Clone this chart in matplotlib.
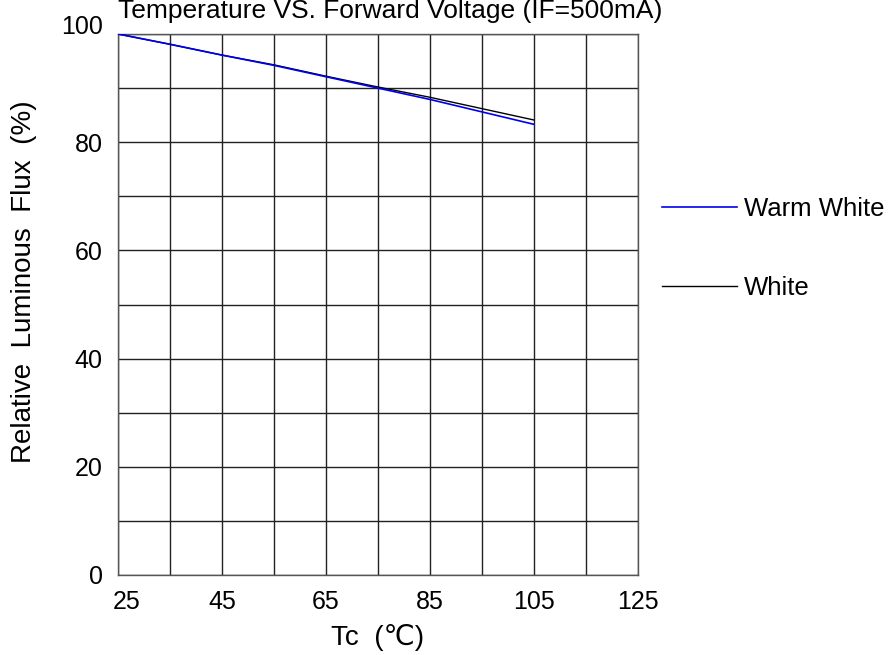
import matplotlib.pyplot as plt
import matplotlib.transforms as mtransforms

plt.rcParams['font.family'] = ['Liberation Sans', 'DejaVu Sans']

# Tc (deg C) and relative luminous flux (%)
tc = [25, 35, 45, 55, 65, 75, 85, 95, 105]
warm_white = [100, 98.1, 96.1, 94.2, 92.1, 90.0, 87.9, 85.6, 83.3]
white = [100, 98.1, 96.1, 94.3, 92.2, 90.2, 88.3, 86.2, 84.1]

x_ticks = [25, 45, 65, 85, 105, 125]
y_ticks = [0, 20, 40, 60, 80, 100]

fig = plt.figure(figsize=(8.88, 6.55), dpi=100)
ax = fig.add_axes([118/888, 1-575/655, 520/888, 541/655])

ax.plot(tc, white, color='black', lw=1.0, label='White', zorder=3)
ax.plot(tc, warm_white, color='#0000ee', lw=1.2, label='Warm White', zorder=4)

ax.set_xlim(25, 125)
ax.set_ylim(0, 100)
ax.set_xticks(x_ticks)
ax.set_xticks([35, 55, 75, 95, 115], minor=True)
ax.set_yticks(y_ticks)
ax.set_yticks([10, 30, 50, 70, 90], minor=True)
ax.grid(which='both', color='#222222', lw=1.0)
ax.tick_params(which='both', length=0, labelsize=18)
ax.tick_params(axis='x', pad=11)
ax.tick_params(axis='y', pad=11)
for s in ax.spines.values():
    s.set_color('#555555')
    s.set_linewidth(1.0)

# the "100" label sits a bit above its line, "25" a bit right of its line
lab = ax.get_yticklabels()[-1]
lab.set_transform(lab.get_transform() + mtransforms.ScaledTranslation(0, 10/100, fig.dpi_scale_trans))
lab = ax.get_xticklabels()[0]
lab.set_transform(lab.get_transform() + mtransforms.ScaledTranslation(9/100, 0, fig.dpi_scale_trans))

ax.set_xlabel('Tc  (℃)', fontsize=20, labelpad=7)
ax.set_ylabel('Relative  Luminous  Flux  (%)', fontsize=20)
ax.yaxis.set_label_coords(-0.155, 0.543)

fig.text(390/888, 1-18/655, 'Temperature VS. Forward Voltage (IF=500mA)',
         fontsize=19, ha='center', va='baseline')

handles, labels = ax.get_legend_handles_labels()
fig.legend(handles[::-1], labels[::-1], loc='upper left',
           bbox_to_anchor=(662/888, 1-197/655), frameon=False,
           fontsize=18.5, handlelength=2.9, handletextpad=0.3, labelspacing=2.15,
           borderpad=0, borderaxespad=0)

fig.savefig('out.png', dpi=100)
